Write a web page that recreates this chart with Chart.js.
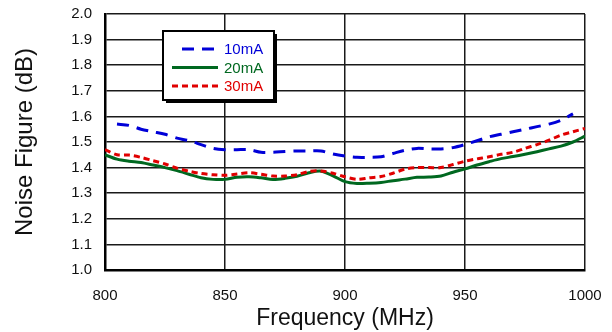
<!DOCTYPE html>
<html>
<head>
<meta charset="utf-8">
<script src="https://cdn.jsdelivr.net/npm/chart.js@4/dist/chart.umd.min.js"></script>
<style>
  html, body { margin: 0; padding: 0; background: #fff; }
  #nfChart { display: block; }
</style>
</head>
<body>
<canvas id="nfChart" width="612" height="332"></canvas>
<script>
// frequency points (MHz)
const freqMHz = [
    800, 805, 810, 815, 820, 825, 830, 835, 840, 845,
    850, 855, 860, 865, 870, 875, 880, 885, 890, 895,
    900, 905, 910, 915, 920, 925, 930, 935, 940, 945,
    950, 955, 960, 965, 970, 975, 980, 985, 990, 995, 1000
];

// noise figure (dB)
const nf10mA = [
    null, 1.57, 1.565, 1.55, 1.54, 1.53, 1.515, 1.505, 1.49, 1.475,
    1.47, 1.47, 1.47, 1.46, 1.46, 1.463, 1.465, 1.465, 1.465, 1.453,
    1.445, 1.44, 1.44, 1.442, 1.455, 1.468, 1.475, 1.473, 1.473, 1.478,
    1.49, 1.505, 1.52, 1.53, 1.54, 1.55, 1.56, 1.57, 1.585, 1.61, null
];
const nf20mA = [
    1.45, 1.433, 1.425, 1.42, 1.41, 1.40, 1.388, 1.374, 1.36, 1.354,
    1.354, 1.362, 1.364, 1.36, 1.354, 1.358, 1.366, 1.38, 1.386, 1.368,
    1.345, 1.338, 1.339, 1.342, 1.349, 1.355, 1.362, 1.363, 1.367, 1.382,
    1.395, 1.41, 1.423, 1.435, 1.443, 1.452, 1.462, 1.473, 1.484, 1.50, 1.523
];
const nf30mA = [
    1.47, 1.45, 1.449, 1.44, 1.427, 1.414, 1.398, 1.386, 1.377, 1.372,
    1.37, 1.375, 1.38, 1.374, 1.367, 1.367, 1.372, 1.385, 1.387, 1.378,
    1.364, 1.354, 1.36, 1.365, 1.378, 1.394, 1.40, 1.40, 1.40, 1.412,
    1.425, 1.434, 1.442, 1.452, 1.46, 1.475, 1.49, 1.507, 1.527, 1.54, 1.553
];

const seriesNames = ['10mA', '20mA', '30mA'];

const toPoints = vals => freqMHz.map((f, i) => ({ x: f, y: vals[i] }));

const FONT = "'Liberation Sans', Arial, sans-serif";

// boxed legend with a drop shadow, sitting inside the plot
const boxLegend = {
    id: 'boxLegend',
    afterDraw(chart) {
        const { ctx, chartArea } = chart;
        const x = chartArea.left + 58;
        const y = chartArea.top + 17;
        const w = 111;
        const h = 69;

        ctx.save();
        ctx.fillStyle = '#000';
        ctx.fillRect(x + 3, y + 3, w, h); // shadow
        ctx.fillStyle = '#fff';
        ctx.fillRect(x, y, w, h);
        ctx.strokeStyle = '#000';
        ctx.lineWidth = 2;
        ctx.strokeRect(x, y, w, h);

        ctx.font = '15px ' + FONT;
        ctx.textBaseline = 'middle';
        chart.data.datasets.forEach((ds, i) => {
            const ry = y + 18 + i * 18.5;
            ctx.beginPath();
            ctx.setLineDash(ds.borderDash || []);
            ctx.strokeStyle = ds.borderColor;
            ctx.lineWidth = ds.borderWidth;
            ctx.moveTo(i === 0 ? x + 19 : x + 9, ry);
            ctx.lineTo(x + 55, ry);
            ctx.stroke();
            ctx.setLineDash([]);
            ctx.fillStyle = ds.borderColor;
            ctx.fillText(ds.label, x + 61, ry + 1);
        });
        ctx.restore();
    }
};

new Chart(document.getElementById('nfChart'), {
    type: 'line',
    data: {
        datasets: [
            {
                label: seriesNames[0],
                data: toPoints(nf10mA),
                borderColor: '#0000d8',
                borderWidth: 3,
                borderDash: [12, 8]
            },
            {
                label: seriesNames[1],
                data: toPoints(nf20mA),
                borderColor: '#006820',
                borderWidth: 3
            },
            {
                label: seriesNames[2],
                data: toPoints(nf30mA),
                borderColor: '#e00000',
                borderWidth: 3,
                borderDash: [6, 4],
                order: -1
            }
        ]
    },
    options: {
        responsive: false,
        animation: false,
        devicePixelRatio: 1,
        layout: { padding: { top: 14, right: 27, left: 0, bottom: 0 } },
        elements: {
            point: { radius: 0 },
            line: { tension: 0.3, fill: false }
        },
        plugins: {
            legend: { display: false },
            tooltip: { enabled: false }
        },
        scales: {
            x: {
                type: 'linear',
                min: 800,
                max: 1000,
                afterFit: scale => {
                    scale.height = 62;
                    scale.paddingLeft = 0;
                    scale.paddingRight = 0;
                },
                ticks: {
                    stepSize: 50,
                    color: '#111',
                    padding: 17,
                    maxRotation: 0,
                    callback: v => String(v),
                    font: { family: FONT, size: 15 }
                },
                grid: { color: '#1a1a1a', lineWidth: 1.5, drawTicks: false },
                border: { color: '#000', width: 2.5 },
                title: {
                    display: true,
                    text: 'Frequency (MHz)',
                    color: '#111',
                    padding: 0,
                    font: { family: FONT, size: 23 }
                }
            },
            y: {
                min: 1.0,
                max: 2.0,
                afterFit: scale => {
                    scale.width = 105;
                    scale.paddingTop = 0;
                    scale.paddingBottom = 0;
                },
                ticks: {
                    stepSize: 0.1,
                    color: '#111',
                    padding: 13,
                    callback: v => v.toFixed(1),
                    font: { family: FONT, size: 15 }
                },
                grid: { color: '#1a1a1a', lineWidth: 1.5, drawTicks: false },
                border: { color: '#000', width: 2.5 },
                title: {
                    display: true,
                    text: 'Noise Figure (dB)',
                    color: '#111',
                    padding: { top: 11, bottom: 0 },
                    font: { family: FONT, size: 24 }
                }
            }
        }
    },
    plugins: [boxLegend]
});
</script>
</body>
</html>
